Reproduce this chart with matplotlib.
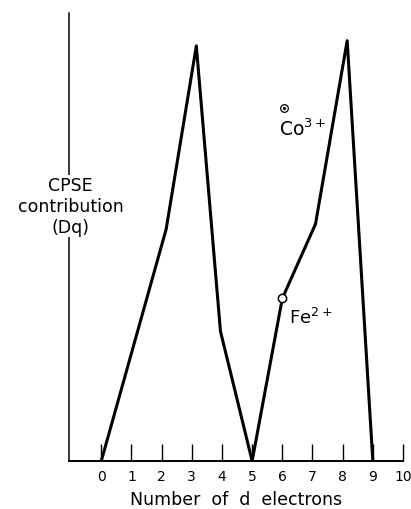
import matplotlib.pyplot as plt

# number of d electrons and CPSE contribution (Dq)
d_electrons = [0, 2.15, 3.15, 3.95, 5, 6.0, 7.1, 8.15, 9]
cpse = [0, 6.7, 12.0, 3.75, 0, 4.7, 6.85, 12.15, 0]

fe_point = (6.0, 4.7)
co_point = (6.05, 10.2)
tick_values = list(range(11))
tick_labels = [str(t) for t in tick_values]

plt.rcParams['font.family'] = ['DejaVu Sans']

fig = plt.figure(figsize=(4.11, 5.10), dpi=100)
ax = fig.add_axes([69 / 411, 48 / 510, 334 / 411, 448 / 510])

# main curve
ax.plot(d_electrons, cpse, color='black', lw=2.2, solid_joinstyle='round',
        solid_capstyle='butt', zorder=3)

# Fe2+ marker (open circle on the curve)
ax.plot(*fe_point, 'o', ms=6, mfc='white', mec='black', mew=1.1, zorder=4)
ax.text(6.23, 3.99, 'Fe$^{2+}$', fontsize=13, ha='left', va='baseline')

# Co3+ marker (circle with a dot)
ax.plot(*co_point, 'o', ms=5.5, mfc='white', mec='black', mew=0.9, zorder=4)
ax.plot(*co_point, 'o', ms=1.3, color='black', zorder=5)
ax.text(5.9, 9.42, 'Co$^{3+}$', fontsize=13.5, ha='left', va='baseline')

ax.set_xlim(-1.07, 10.0)
ax.set_ylim(0, 12.95)

# axes: only left and bottom lines
ax.spines['top'].set_visible(False)
ax.spines['right'].set_visible(False)
ax.spines['left'].set_linewidth(1.1)
ax.spines['bottom'].set_linewidth(1.4)

ax.set_xticks(tick_values)
ax.set_xticklabels(tick_labels)
ax.tick_params(axis='x', direction='in', length=12.5, width=1.0, pad=6,
               labelsize=10)
ax.set_yticks([])

ax.set_xlabel('Number  of  d  electrons', fontsize=12.5, labelpad=5)

# y label sits on top of the axis line with a white background
ax.text(-1.02, 7.37, 'CPSE\ncontribution\n(Dq)', fontsize=12.5, ha='center',
        va='center', multialignment='center', linespacing=1.2,
        bbox=dict(facecolor='white', edgecolor='none', pad=1), zorder=6)

fig.savefig('out.png', dpi=100)
